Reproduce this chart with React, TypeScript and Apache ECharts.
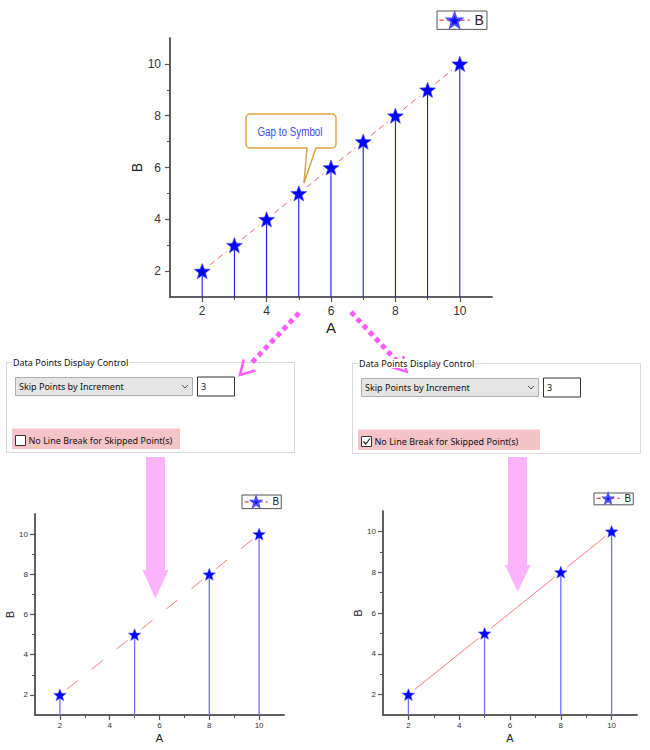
import React, { useEffect, useRef } from "react";
import * as echarts from "echarts";

// ---------- data ----------
const xValues = [2, 3, 4, 5, 6, 7, 8, 9, 10];
const yValues = [2, 3, 4, 5, 6, 7, 8, 9, 10];
const shownX = [2, 5, 8, 10];
const shownY = [2, 5, 8, 10];
const majorTicks = [2, 4, 6, 8, 10];
const minorTicks = [3, 5, 7, 9];
const axisMin = 1;
const axisMax = 11;
const xName = "A";
const yName = "B";
const seriesName = "B";
const skipIncrement = "3";
const calloutText = "Gap to Symbol";
const panelTitle = "Data Points Display Control";
const dropdownText = "Skip Points by Increment";
const checkboxText = "No Line Break for Skipped Point(s)";

// ---------- helpers ----------
const FONT = "'Liberation Sans', Arial, sans-serif";
const UI_FONT = "'Noto Sans', 'Open Sans', sans-serif";

function starPath(inner: number) {
  const pts: string[] = [];
  for (let i = 0; i < 10; i++) {
    const r = i % 2 === 0 ? 1 : inner;
    const a = -Math.PI / 2 + (i * Math.PI) / 5;
    pts.push(`${(r * Math.cos(a)).toFixed(4)},${(r * Math.sin(a)).toFixed(4)}`);
  }
  return "path://M" + pts.join("L") + "Z";
}
const STAR = starPath(0.42);

function pairs(xs: number[], ys: number[]) {
  const out: number[][] = [];
  for (let i = 0; i < xs.length - 1; i++) out.push([xs[i], ys[i], xs[i + 1], ys[i + 1]]);
  return out;
}

const calloutD =
  "M4,0 H86 A4,4 0 0 1 90,4 V30 A4,4 0 0 1 86,34 H70 L58,69 L61,34 H4 A4,4 0 0 1 0,30 V4 A4,4 0 0 1 4,0 Z";
echarts.graphic.registerShape("callout", (echarts.graphic as any).extendPath(calloutD, {}));

function segRender(gap: number, color: string, width: number, dash: number[] | null) {
  return (params: any, api: any) => {
    const p1 = api.coord([api.value(0), api.value(1)]);
    const p2 = api.coord([api.value(2), api.value(3)]);
    const dx = p2[0] - p1[0];
    const dy = p2[1] - p1[1];
    const len = Math.hypot(dx, dy) || 1;
    const ux = dx / len;
    const uy = dy / len;
    return {
      type: "line",
      shape: { x1: p1[0] + ux * gap, y1: p1[1] + uy * gap, x2: p2[0] - ux * gap, y2: p2[1] - uy * gap },
      style: { stroke: color, lineWidth: width, lineDash: dash, fill: null },
    };
  };
}

function dropRender(color: string, width: number) {
  return (params: any, api: any) => {
    const p = api.coord([api.value(0), api.value(1)]);
    const cs = params.coordSys;
    return {
      type: "line",
      shape: { x1: p[0], y1: p[1], x2: p[0], y2: cs.y + cs.height },
      style: { stroke: color, lineWidth: width },
    };
  };
}

function xAxes(grid: number, fontSize: number, nameSize: number, nameGap: number, margin: number) {
  const line = { show: true, onZero: false, lineStyle: { color: "#555", width: 1.5 } };
  return [
    {
      type: "value", gridIndex: grid, min: axisMin, max: axisMax, interval: 1, position: "bottom",
      name: xName, nameLocation: "middle", nameGap,
      nameTextStyle: { fontSize: nameSize, color: "#222", fontFamily: FONT },
      axisLine: line,
      axisTick: { show: true, length: 5, customValues: majorTicks, lineStyle: { color: "#555", width: 1.2 } },
      axisLabel: { customValues: majorTicks, fontSize, color: "#333", margin, fontFamily: FONT },
      splitLine: { show: false },
    },
    {
      type: "value", gridIndex: grid, min: axisMin, max: axisMax, interval: 1, position: "bottom",
      axisLine: line,
      axisTick: { show: true, length: 3, customValues: minorTicks, lineStyle: { color: "#555", width: 1 } },
      axisLabel: { show: false },
      splitLine: { show: false },
    },
  ];
}

function yAxes(grid: number, fontSize: number, nameSize: number, nameGap: number, margin: number) {
  const line = { show: true, onZero: false, lineStyle: { color: "#555", width: 1.5 } };
  return [
    {
      type: "value", gridIndex: grid, min: axisMin, max: axisMax, interval: 1, position: "left",
      name: yName, nameLocation: "middle", nameGap,
      nameTextStyle: { fontSize: nameSize, color: "#222", fontFamily: FONT },
      axisLine: line,
      axisTick: { show: true, length: 5, customValues: majorTicks, lineStyle: { color: "#555", width: 1.2 } },
      axisLabel: { customValues: majorTicks, fontSize, color: "#333", margin, fontFamily: FONT },
      splitLine: { show: false },
    },
    {
      type: "value", gridIndex: grid, min: axisMin, max: axisMax, interval: 1, position: "left",
      axisLine: line,
      axisTick: { show: true, length: 3, customValues: minorTicks, lineStyle: { color: "#555", width: 1 } },
      axisLabel: { show: false },
      splitLine: { show: false },
    },
  ];
}

function legendAt(left: number, top: number, itemWidth: number, itemHeight: number, fontSize: number, pad: number[]) {
  return {
    left, top, orient: "horizontal", data: [seriesName], selectedMode: false,
    itemWidth, itemHeight, padding: pad,
    borderColor: "#555", borderWidth: 1, backgroundColor: "#fff",
    textStyle: { fontSize, color: "#222", fontFamily: FONT },
    lineStyle: { color: "#ff3b3b", type: [4, 3], width: 1.2, opacity: 1 },
    itemStyle: { color: "#0000ff" },
  };
}

function dottedArrow(x1: number, y1: number, x2: number, y2: number) {
  const color = "#ff5bff";
  const dx = x2 - x1;
  const dy = y2 - y1;
  const L = Math.hypot(dx, dy);
  const ux = dx / L;
  const uy = dy / L;
  const head = 16;
  const ang = Math.PI / 6;
  const bx = -ux;
  const by = -uy;
  const arm = (s: number) => [
    x2 + head * (bx * Math.cos(s * ang) - by * Math.sin(s * ang)),
    y2 + head * (bx * Math.sin(s * ang) + by * Math.cos(s * ang)),
  ];
  return [
    {
      type: "line", z: 100,
      shape: { x1, y1, x2: x2 - ux * 14, y2: y2 - uy * 14 },
      style: { stroke: color, lineWidth: 5, lineDash: [5, 4] },
    },
    {
      type: "polyline", z: 100,
      shape: { points: [arm(1), [x2, y2], arm(-1)] },
      style: { stroke: color, lineWidth: 2.5, fill: null },
    },
  ];
}

function bigArrow(sl: number, sr: number, top: number, sb: number, hl: number, hr: number, ax: number, ay: number) {
  return {
    type: "polygon", z: 100,
    shape: { points: [[sl, top], [sr, top], [sr, sb], [hr, sb], [ax, ay], [hl, sb], [sl, sb]] },
    style: { fill: "#fbb4fb" },
  };
}

function panel(ox: number, oy: number, hlWidth: number, checked: boolean) {
  const txt = (x: number, y: number, text: string) => ({
    type: "text", z: 100, x: x + ox, y: y + oy,
    style: { text, fill: "#111", font: `9px ${UI_FONT}`, verticalAlign: "middle", align: "left" },
  });
  const els: any[] = [
    { type: "rect", z: 99, shape: { x: 6.5 + ox, y: 362.5 + oy, width: 288, height: 90 }, style: { fill: "#fff", stroke: "#d8d8d8", lineWidth: 1 } },
    {
      type: "text", z: 100, x: 12 + ox, y: 362.5 + oy,
      style: { text: panelTitle, fill: "#111", font: `9px ${UI_FONT}`, verticalAlign: "middle", align: "left", backgroundColor: "#fff", padding: [0, 1] },
    },
    { type: "rect", z: 100, shape: { x: 15.5 + ox, y: 377.5 + oy, width: 177, height: 18 }, style: { fill: "#e5e5e5", stroke: "#adadad", lineWidth: 1 } },
    txt(19, 386.5, dropdownText),
    { type: "polyline", z: 100, shape: { points: [[182 + ox, 385 + oy], [185 + ox, 388 + oy], [188 + ox, 385 + oy]] }, style: { stroke: "#555", lineWidth: 1, fill: null } },
    { type: "rect", z: 100, shape: { x: 197.5 + ox, y: 377 + oy, width: 37, height: 19 }, style: { fill: "#fff", stroke: "#333", lineWidth: 1 } },
    txt(201, 386.5, skipIncrement),
    { type: "rect", z: 100, shape: { x: 12 + ox, y: 428.5 + oy, width: hlWidth, height: 20.5 }, style: { fill: "#f5c4c8" } },
    { type: "rect", z: 100, shape: { x: 15.5 + ox, y: 435.5 + oy, width: 10, height: 10 }, style: { fill: "#fff", stroke: "#333", lineWidth: 1 } },
    txt(28.5, 440.5, checkboxText),
  ];
  if (checked) {
    els.push({
      type: "polyline", z: 101,
      shape: { points: [[17.5 + ox, 440.5 + oy], [19.8 + ox, 443 + oy], [24 + ox, 437.5 + oy]] },
      style: { stroke: "#222", lineWidth: 1.2, fill: null },
    });
  }
  return els;
}

export default function App() {
  const ref = useRef<HTMLDivElement>(null);
  useEffect(() => {
    if (!ref.current) return;
    const chart = echarts.init(ref.current, null, { renderer: "svg" });
    const topPts = xValues.map((x, i) => [x, yValues[i]]);
    const shownPts = shownX.map((x, i) => [x, shownY[i]]);
    const xs = [...xAxes(0, 12, 15, 23, 8), ...xAxes(1, 8, 11, 17, 6), ...xAxes(2, 8, 11, 17, 6)];
    const ys = [...yAxes(0, 12, 14, 26, 9), ...yAxes(1, 8, 11, 15, 7), ...yAxes(2, 8, 11, 16, 7)];
    const option: any = {
      animation: false,
      backgroundColor: "#fff",
      grid: [
        { left: 170, top: 38, width: 322, height: 259 },
        { left: 35, top: 514, width: 249, height: 201 },
        { left: 383, top: 511, width: 254, height: 204 },
      ],
      xAxis: xs,
      yAxis: ys,
      legend: [
        legendAt(437, 11, 30, 18, 14, [1, 3, 1, 2]),
        legendAt(242, 495, 23, 12, 10, [1, 2, 1, 2]),
        legendAt(594, 493, 23, 11, 10, [0, 2, 1, 2]),
      ],
      series: [
        // grid 0
        { type: "custom", xAxisIndex: 0, yAxisIndex: 0, silent: true, z: 1, renderItem: segRender(10, "#ff6363", 1, [6, 4]), data: pairs(xValues, yValues), encode: { x: [0, 2], y: [1, 3] } },
        { type: "custom", xAxisIndex: 0, yAxisIndex: 0, silent: true, z: 1, renderItem: dropRender("#0000ff", 1), data: topPts, encode: { x: 0, y: 1 } },
        {
          type: "line", name: seriesName, xAxisIndex: 0, yAxisIndex: 0, silent: true, z: 3, data: topPts,
          symbol: STAR, symbolSize: 16, symbolKeepAspect: true, showSymbol: true,
          itemStyle: { color: "#0000ff", borderColor: "#4d4dff", borderWidth: 0.6 },
          lineStyle: { width: 1, opacity: 0 },
        },
        // grid 1: skipped points with line break
        { type: "custom", xAxisIndex: 2, yAxisIndex: 2, silent: true, z: 1, renderItem: segRender(9, "#ff7b7b", 1, null), data: pairs(xValues, yValues), encode: { x: [0, 2], y: [1, 3] } },
        { type: "custom", xAxisIndex: 2, yAxisIndex: 2, silent: true, z: 1, renderItem: dropRender("#7070ff", 1.3), data: shownPts, encode: { x: 0, y: 1 } },
        {
          type: "line", name: seriesName, xAxisIndex: 2, yAxisIndex: 2, silent: true, z: 3, data: shownPts,
          symbol: STAR, symbolSize: 12.5, symbolKeepAspect: true, showSymbol: true,
          itemStyle: { color: "#0000ff", borderColor: "#4d4dff", borderWidth: 0.5 },
          lineStyle: { width: 1, opacity: 0 },
        },
        // grid 2: skipped points without line break
        { type: "custom", xAxisIndex: 4, yAxisIndex: 4, silent: true, z: 1, renderItem: segRender(8, "#ff7b7b", 1, null), data: pairs(shownX, shownY), encode: { x: [0, 2], y: [1, 3] } },
        { type: "custom", xAxisIndex: 4, yAxisIndex: 4, silent: true, z: 1, renderItem: dropRender("#7070ff", 1.3), data: shownPts, encode: { x: 0, y: 1 } },
        {
          type: "line", name: seriesName, xAxisIndex: 4, yAxisIndex: 4, silent: true, z: 3, data: shownPts,
          symbol: STAR, symbolSize: 12.5, symbolKeepAspect: true, showSymbol: true,
          itemStyle: { color: "#0000ff", borderColor: "#4d4dff", borderWidth: 0.5 },
          lineStyle: { width: 1, opacity: 0 },
        },
      ],
      graphic: [
        { type: "callout", z: 100, x: 246, y: 114, style: { fill: "#fff", stroke: "#dca448", lineWidth: 1.5 } },
        {
          type: "text", z: 101, x: 290, y: 131.5, scaleX: 0.82,
          style: { text: calloutText, fill: "#4a4af5", font: "12px 'Liberation Sans', Arial, sans-serif", align: "center", verticalAlign: "middle" },
        },
        ...dottedArrow(299, 313, 240, 375),
        ...dottedArrow(351, 312, 406.7, 371.7),
        ...panel(0, 0, 168, false),
        ...panel(346, 1, 182, true),
        bigArrow(146, 165, 457, 570, 142.5, 168.5, 155.5, 598.5),
        bigArrow(508, 527, 457, 565, 505, 530.5, 517.7, 591.7),
      ],
    };
    chart.setOption(option);
    return () => chart.dispose();
  }, []);
  return (
    <div
      ref={ref}
      style={{ position: "absolute", left: 0, top: 0, width: 650, height: 750, background: "#fff" }}
    />
  );
}
